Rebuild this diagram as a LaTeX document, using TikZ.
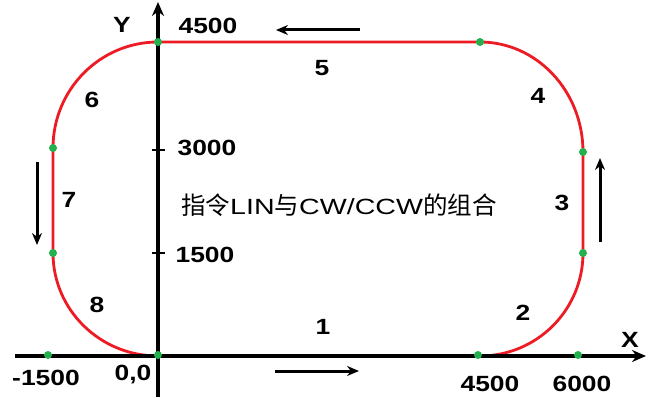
\documentclass[tikz,border=0pt]{standalone}
\usepackage{fontspec}
\setmainfont{Liberation Sans}[FakeStretch=1.2]
\newfontfamily\cjkf{Noto Sans CJK SC}
\newfontfamily\widef{Liberation Sans}[FakeStretch=1.3]
\usetikzlibrary{arrows.meta}
\definecolor{pathred}{RGB}{237,28,36}
\definecolor{dotgreen}{RGB}{34,177,76}
\tikzset{
  axisline/.style={line width=3.2pt,black},
  redpath/.style={line width=2.8pt,pathred},
  gdot/.style={circle,fill=dotgreen,inner sep=0pt,minimum size=8pt},
  lbl/.style={font=\fontsize{22}{26}\selectfont\bfseries,inner sep=0pt},
  dirarrow/.style={line width=3pt,-{Stealth[length=12pt,width=10pt]}}
}
\begin{document}
\begin{tikzpicture}[x=1pt,y=1pt]
\useasboundingbox (0,0) rectangle (648,397);
% key points of the contour
\coordinate (O) at (158,41);
\coordinate (A) at (480,41);
\coordinate (B) at (583,144);
\coordinate (C) at (583,245);
\coordinate (D) at (480,355);
\coordinate (E) at (158,355);
\coordinate (F) at (53,249);
\coordinate (G) at (53,144);
% red contour
\draw[redpath] (O) -- (A)
  arc[start angle=-90,end angle=0,x radius=103,y radius=103] -- (C)
  arc[start angle=0,end angle=90,x radius=103,y radius=110] -- (E)
  arc[start angle=90,end angle=180,x radius=105,y radius=106] -- (G)
  arc[start angle=180,end angle=270,x radius=105,y radius=103];
% axes
\coordinate (xs) at (15,41);
\coordinate (xe) at (646,41);
\coordinate (ys) at (158,0);
\coordinate (ye) at (158,395);
\draw[axisline,-{Stealth[length=14pt,width=12pt]}] (xs) -- (xe);
\draw[axisline,-{Stealth[length=14pt,width=12pt]}] (ys) -- (ye);
\coordinate (t1a) at (152,247); \coordinate (t1b) at (165,247);
\coordinate (t2a) at (152,144); \coordinate (t2b) at (165,144);
\draw[line width=2.5pt] (t1a) -- (t1b);
\draw[line width=2.5pt] (t2a) -- (t2b);
% green dots
\node[gdot] (d1) at (158,42) {};
\node[gdot] (d2) at (48,42) {};
\node[gdot] (d3) at (478,42) {};
\node[gdot] (d4) at (578,42) {};
\node[gdot] (d5) at (583,144) {};
\node[gdot] (d6) at (583,245) {};
\node[gdot] (d7) at (480,355) {};
\node[gdot] (d8) at (158,355) {};
\node[gdot] (d9) at (53,249) {};
\node[gdot] (d10) at (53,144) {};
% direction arrows
\coordinate (ta) at (360,367); \coordinate (tb) at (276,367);
\coordinate (ba) at (275,26); \coordinate (bb) at (359,26);
\coordinate (la) at (37,235); \coordinate (lb) at (37,152);
\coordinate (ra) at (600,155); \coordinate (rb) at (600,239);
\draw[dirarrow] (ta) -- (tb);
\draw[dirarrow] (ba) -- (bb);
\draw[dirarrow] (la) -- (lb);
\draw[dirarrow] (ra) -- (rb);
% labels
\node[lbl] (ylab) at (122,372) {Y};
\node[lbl] (xlab) at (630,57) {X};
\node[lbl] (l4500t) at (208,371) {4500};
\node[lbl] (l3000) at (207,249) {3000};
\node[lbl] (l1500) at (205,142) {1500};
\node[lbl] (lm1500) at (46,19) {-1500};
\node[lbl] (l00) at (133,22) {0,0};
\node[lbl] (l4500b) at (490,13) {4500};
\node[lbl] (l6000) at (582,13) {6000};
\node[lbl] (n1) at (323,70) {1};
\node[lbl] (n2) at (523,84) {2};
\node[lbl] (n3) at (562,194) {3};
\node[lbl] (n4) at (538,301) {4};
\node[lbl] (n5) at (322,329) {5};
\node[lbl] (n6) at (92,297) {6};
\node[lbl] (n7) at (69,197) {7};
\node[lbl] (n8) at (97,92) {8};
\node[anchor=west,inner sep=0pt,font=\widef\fontsize{22}{26}\selectfont] (title) at (181,192)
  {{\cjkf\fontsize{24.5}{26}\selectfont 指令}LIN{\cjkf\fontsize{24.5}{26}\selectfont 与}CW/CCW{\cjkf\fontsize{24.5}{26}\selectfont 的组合}};
\end{tikzpicture}
\end{document}
